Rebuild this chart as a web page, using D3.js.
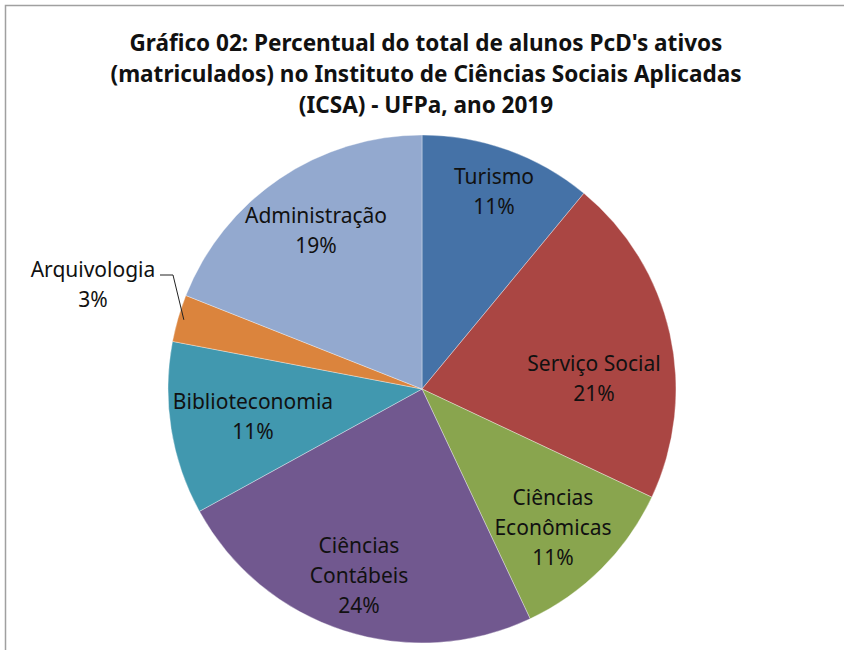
<!DOCTYPE html>
<meta charset="utf-8">
<style>
  body { margin: 0; background: #fff; }
  svg { display: block; }
</style>
<body>
<script src="https://d3js.org/d3.v7.min.js"></script>
<script>

// Data

var cursos = ["Turismo", "Serviço Social", "Ciências Econômicas", "Ciências Contábeis",
              "Biblioteconomia", "Arquivologia", "Administração"];
var percentuais = [11, 21, 11, 24, 11, 3, 19];
var cores = ["#4572a7", "#aa4643", "#89a54e", "#71588f", "#4198af", "#db843d", "#93a9cf"];
var tituloLinhas = [
    "Gráfico 02: Percentual do total de alunos PcD's ativos",
    "(matriculados) no Instituto de Ciências Sociais Aplicadas",
    "(ICSA) - UFPa, ano 2019"
];

// Label layout (line breaks and hand placed spots, like the Excel chart)

var rotulos = {
    "Turismo":             { x: 494, y: 184, linhas: ["Turismo"] },
    "Serviço Social":      { x: 594, y: 371, linhas: ["Serviço Social"] },
    "Ciências Econômicas": { x: 553, y: 505, linhas: ["Ciências", "Econômicas"] },
    "Ciências Contábeis":  { x: 359, y: 553, linhas: ["Ciências", "Contábeis"] },
    "Biblioteconomia":     { x: 253, y: 409, linhas: ["Biblioteconomia"] },
    "Arquivologia":        { x: 93,  y: 277, linhas: ["Arquivologia"] },
    "Administração":       { x: 316, y: 223, linhas: ["Administração"] }
};

var width = 844,
    height = 650,
    cx = 422,
    cy = 389,
    radius = 254;

var svg = d3.select("body").append("svg")
    .attr("width", width)
    .attr("height", height);

// Frame (only top and left edges show inside the picture)

svg.append("rect")
    .attr("x", 5.5)
    .attr("y", 5.5)
    .attr("width", width + 20)
    .attr("height", height + 20)
    .attr("fill", "none")
    .attr("stroke", "#a0a0a0")
    .attr("stroke-width", 1.5);

// Title

var titulo = svg.append("g")
    .attr("font-family", "'Noto Sans', sans-serif")
    .attr("font-weight", "bold")
    .attr("font-size", "22.5px")
    .attr("fill", "#111");

var tituloTxt = titulo.selectAll("text")
    .data(tituloLinhas)
    .enter().append("text")
    .attr("x", 426)
    .attr("y", function(d, i) { return 51 + i * 31; })
    .attr("text-anchor", "middle")
    .text(function(d) { return d; });

// squeeze to Calibri-like width, using line 2 as reference
var k = 631 / tituloTxt.nodes()[1].getComputedTextLength();
tituloTxt.each(function() {
    var w = this.getComputedTextLength();
    d3.select(this)
        .attr("textLength", w * k)
        .attr("lengthAdjust", "spacingAndGlyphs");
});

// Pie

var dados = cursos.map(function(c, i) { return { curso: c, valor: percentuais[i] }; });

var cor = d3.scaleOrdinal()
    .domain(cursos)
    .range(cores);

var pie = d3.pie()
    .sort(null)
    .value(function(d) { return d.valor; });

var arc = d3.arc()
    .innerRadius(0)
    .outerRadius(radius);

var g = svg.append("g")
    .attr("transform", "translate(" + [cx, cy] + ")");

g.selectAll("path")
    .data(pie(dados))
    .enter().append("path")
    .attr("d", arc)
    .attr("fill", function(d) { return cor(d.data.curso); })
    .attr("stroke", "#ffffff")
    .attr("stroke-opacity", 0.5)
    .attr("stroke-width", 0.7);

// Leader line for Arquivologia

var arcos = pie(dados);
var arq = arcos[cursos.indexOf("Arquivologia")];
var meio = (arq.startAngle + arq.endAngle) / 2;
var px = cx + Math.sin(meio) * (radius - 6),
    py = cy - Math.cos(meio) * (radius - 6);

svg.append("path")
    .attr("d", "M160," + 275 + "L173," + 275 + "L" + px + "," + py)
    .attr("fill", "none")
    .attr("stroke", "#222")
    .attr("stroke-width", 1);

// Labels

var labels = svg.append("g")
    .attr("font-family", "'Noto Sans', sans-serif")
    .attr("font-size", "21px")
    .attr("fill", "#111")
    .attr("text-anchor", "middle");

dados.forEach(function(d) {
    var r = rotulos[d.curso];
    var linhas = r.linhas.concat([d.valor + "%"]);
    linhas.forEach(function(t, i) {
        labels.append("text")
            .attr("x", r.x)
            .attr("y", r.y + i * 30)
            .text(t);
    });
});

</script>
</body>
</html>
